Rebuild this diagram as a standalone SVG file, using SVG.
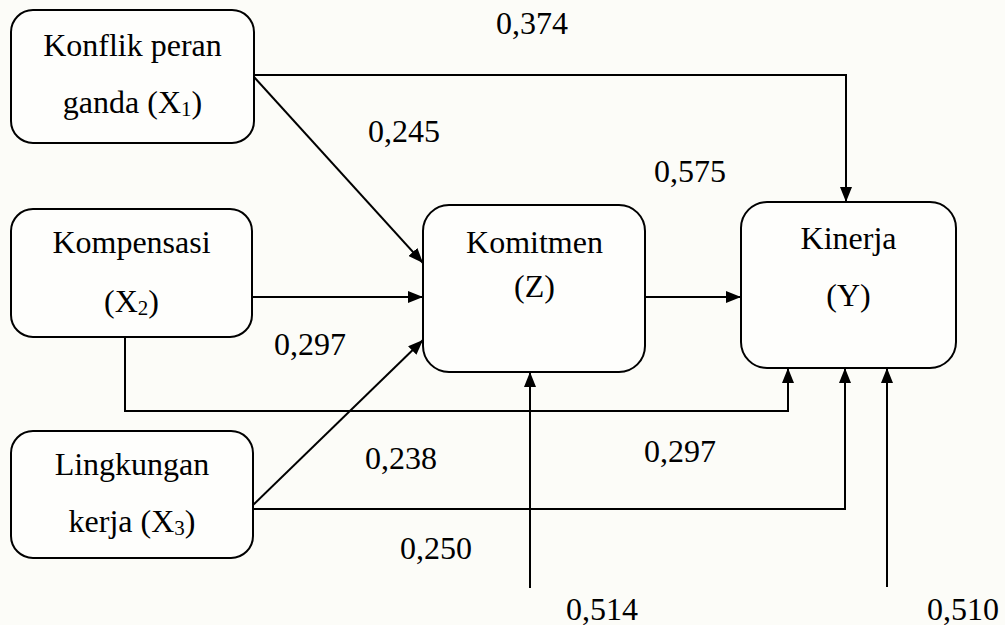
<svg xmlns="http://www.w3.org/2000/svg" width="1005" height="625" viewBox="0 0 1005 625">
<style>
.box{fill:#fefefc;stroke:#000;stroke-width:2}
.t{font-family:"Liberation Serif","Times New Roman",serif;font-size:32px;fill:#000}
.c{text-anchor:middle}
.sub{font-size:21px}
.ln{fill:none;stroke:#000;stroke-width:2;marker-end:url(#ah)}
.pl{fill:none;stroke:#000;stroke-width:2}
</style>
<defs>
<marker id="ah" markerUnits="userSpaceOnUse" markerWidth="15" markerHeight="12" viewBox="0 0 15 12" refX="15" refY="6" orient="auto">
<path d="M0,0 L15,6 L0,12 z" fill="#000"/>
</marker>
</defs>
<rect width="1005" height="625" fill="#fcfcf8"/>
<g id="connectors">
<path class="ln" d="M254,75 H846 V202"/>
<path class="ln" d="M254,77 L423,263"/>
<path class="ln" d="M252,297 H423"/>
<path class="ln" d="M125,337 V411 H788 V368"/>
<path class="ln" d="M253,505 L423,340"/>
<path class="ln" d="M253,509 H845 V368"/>
<path class="ln" d="M645,297 H741"/>
<path class="ln" d="M530,588 V372"/>
<path class="ln" d="M887,587 V368"/>
</g>
<g id="labels" class="t">
<text x="496" y="34">0,374</text>
<text x="368" y="142">0,245</text>
<text x="654" y="182">0,575</text>
<text x="274" y="355">0,297</text>
<text x="365" y="469">0,238</text>
<text x="644" y="462">0,297</text>
<text x="400" y="559">0,250</text>
<text x="566" y="620">0,514</text>
<text x="927" y="620">0,510</text>
</g>
<g id="X1">
<rect class="box" x="11" y="10" width="243" height="133" rx="22"/>
<text class="t c" x="132.5" y="56">Konflik peran</text>
<text class="t c" x="132.5" y="113">ganda (X<tspan class="sub" dy="3">1</tspan><tspan dy="-3">)</tspan></text>
</g>
<g id="X2">
<rect class="box" x="11" y="209" width="241" height="128" rx="22"/>
<text class="t c" x="131.5" y="253">Kompensasi</text>
<text class="t c" x="131.5" y="312">(X<tspan class="sub" dy="3">2</tspan><tspan dy="-3">)</tspan></text>
</g>
<g id="X3">
<rect class="box" x="11" y="431" width="242" height="127" rx="22"/>
<text class="t c" x="132" y="475">Lingkungan</text>
<text class="t c" x="132" y="532">kerja (X<tspan class="sub" dy="3">3</tspan><tspan dy="-3">)</tspan></text>
</g>
<g id="Z">
<rect class="box" x="423" y="205" width="222" height="167" rx="26"/>
<text class="t c" x="534.5" y="253">Komitmen</text>
<text class="t c" x="534.5" y="297">(Z)</text>
</g>
<g id="Y">
<rect class="box" x="741" y="202" width="215" height="166" rx="26"/>
<text class="t c" x="848.5" y="249">Kinerja</text>
<text class="t c" x="848.5" y="306">(Y)</text>
</g>
</svg>
